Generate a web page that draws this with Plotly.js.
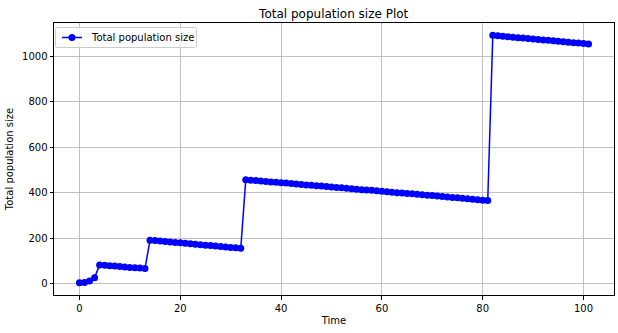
<!DOCTYPE html>
<html>
<head>
<meta charset="utf-8">
<script src="https://cdn.plot.ly/plotly-3.0.1.min.js"></script>
<style>html,body{margin:0;padding:0;background:#fff;}#chart{width:618px;height:333px;}</style>
</head>
<body>
<div id="chart"></div>
<script>
const seriesName = "Total population size";
const population = [
  5, 6, 12, 27,
  83, 81, 79, 78, 76, 74, 72, 71, 69, 67,
  192, 190, 188, 186, 184, 182, 180, 178, 176, 174, 172, 170, 168, 166, 164, 162, 160, 158, 156,
  458, 456, 454, 452, 450, 448, 447, 445, 443, 441, 439, 437, 435, 433, 431, 430, 428, 426, 424, 422,
  420, 418, 416, 414, 413, 411, 409, 407, 405, 403, 401, 399, 397, 396, 394, 392, 390, 388, 386, 384,
  382, 380, 378, 376, 374, 372, 370, 368, 366,
  1093, 1091, 1089, 1087, 1085, 1083, 1081, 1079, 1077, 1075, 1073, 1071, 1069, 1067, 1065, 1063, 1061, 1059, 1057, 1055
];
const time = population.map((_, i) => i);
const xTicks = [0, 20, 40, 60, 80, 100];
const yTicks = [0, 200, 400, 600, 800, 1000];

const W = 618, H = 333;
const M = {l: 54, r: 4, t: 23, b: 38};
const PW = W - M.l - M.r, PH = H - M.t - M.b;
const px = v => (v - M.l) / PW;
const py = v => (H - M.b - v) / PH;

const font = {family: "DejaVu Sans, sans-serif", size: 10, color: "#000"};
const axisCommon = {
  showline: true, mirror: true, linecolor: "#000", linewidth: 1,
  ticks: "outside", ticklen: 3.5, tickwidth: 1, tickcolor: "#000",
  showgrid: true, gridcolor: "#b0b0b0", gridwidth: 0.8,
  zeroline: false, tickfont: font
};

const bx0 = px(55.5), bx1 = px(196.5), by0 = py(47.5), by1 = py(27.5);
const rx = 2 / PW, ry = 2 / PH;
const boxPath = `M ${bx0 + rx},${by0} L ${bx1 - rx},${by0} Q ${bx1},${by0} ${bx1},${by0 + ry} L ${bx1},${by1 - ry} Q ${bx1},${by1} ${bx1 - rx},${by1} L ${bx0 + rx},${by1} Q ${bx0},${by1} ${bx0},${by1 - ry} L ${bx0},${by0 + ry} Q ${bx0},${by0} ${bx0 + rx},${by0} Z`;

Plotly.newPlot("chart", [{
  x: time, y: population, type: "scatter", mode: "lines+markers",
  name: seriesName,
  line: {color: "#0000ff", width: 1.5},
  marker: {color: "#0000ff", size: 7}
}], {
  width: W, height: H,
  margin: M,
  paper_bgcolor: "#fff", plot_bgcolor: "#fff",
  font: font,
  title: {text: "Total population size Plot", font: {family: "DejaVu Sans, sans-serif", size: 12, color: "#000"}, x: 0.54, xanchor: "center", y: 0.96, yanchor: "middle"},
  xaxis: Object.assign({}, axisCommon, {range: [-5.05, 106.05], tickvals: xTicks, ticktext: xTicks.map(String),
    title: {text: "Time", font: font, standoff: 4}}),
  yaxis: Object.assign({}, axisCommon, {range: [-49.4, 1147.4], tickvals: yTicks, ticktext: yTicks.map(String),
    title: {text: "Total population size", font: font, standoff: 6}}),
  showlegend: false,
  shapes: [
    {type: "path", xref: "paper", yref: "paper", path: boxPath,
     fillcolor: "rgba(255,255,255,0.8)", line: {color: "#cccccc", width: 1}},
    {type: "line", xref: "paper", yref: "paper", x0: px(62), x1: px(82), y0: py(37.5), y1: py(37.5),
     line: {color: "#0000ff", width: 1.5}},
    {type: "circle", xref: "paper", yref: "paper", x0: px(72 - 3.5), x1: px(72 + 3.5), y0: py(37.5 + 3.5), y1: py(37.5 - 3.5),
     fillcolor: "#0000ff", line: {color: "#0000ff", width: 0}}
  ],
  annotations: [
    {text: seriesName, xref: "paper", yref: "paper", x: px(88.5), y: py(37.5), xanchor: "left", yanchor: "middle",
     showarrow: false, font: font}
  ]
}, {staticPlot: true});
</script>
</body>
</html>
